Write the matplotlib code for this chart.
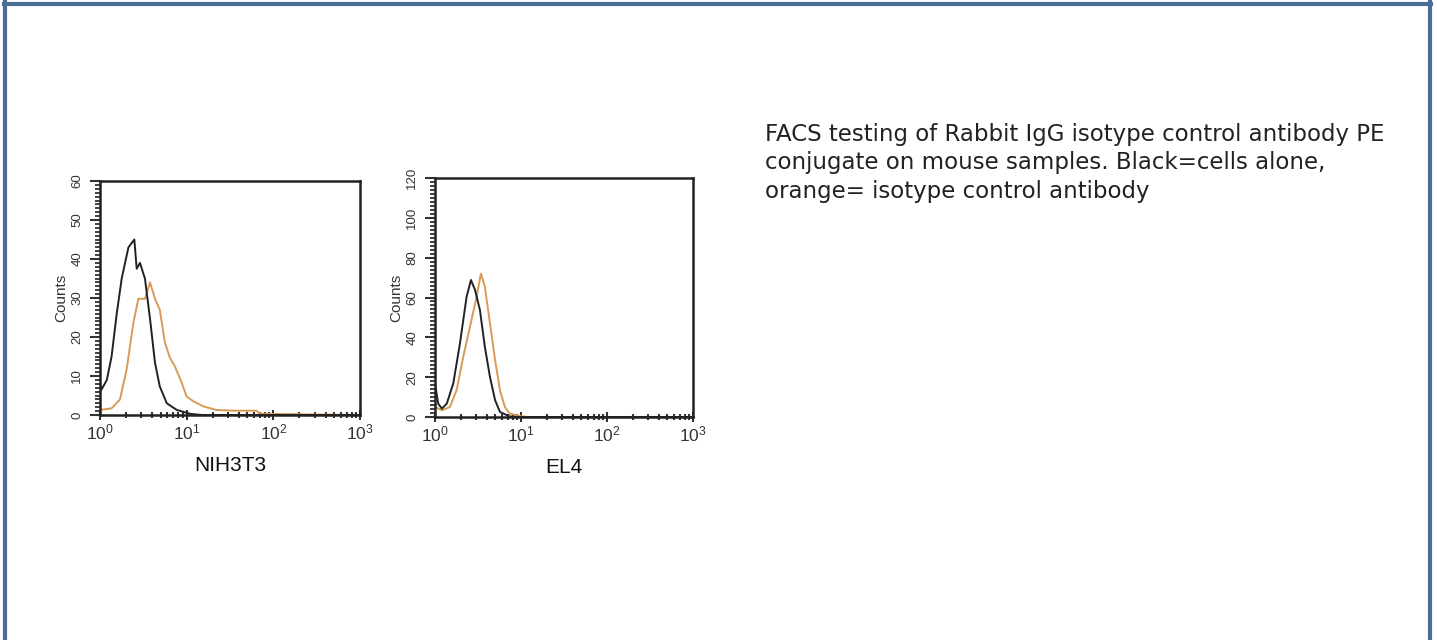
import math
import matplotlib
matplotlib.use("Agg")
import matplotlib.pyplot as plt
from matplotlib.ticker import MultipleLocator, LogLocator, NullFormatter, FuncFormatter

plt.rcParams['font.family'] = ['Liberation Sans', 'DejaVu Sans']
plt.rcParams['mathtext.default'] = 'regular'

# ---- data ----
nih_black_x = [1.0, 1.04, 1.2, 1.36, 1.56, 1.78, 2.13, 2.49, 2.65, 2.89, 3.3, 3.78, 4.31, 4.9, 5.9, 7.7, 11, 15, 1000]
nih_black_y = [8, 6.5, 9, 15, 26, 35, 43, 45, 37.5, 39, 35, 24.6, 13.4, 7.3, 3, 1.3, 0.3, 0, 0]
nih_orange_x = [1.0, 1.36, 1.7, 2.03, 2.43, 2.77, 3.3, 3.78, 4.31, 4.9, 5.6, 6.4, 7.3, 8.8, 10, 12, 15.6, 22, 35, 64, 70, 1000]
nih_orange_y = [1.3, 1.7, 4, 11.7, 23.7, 29.8, 29.8, 34, 29.8, 27, 18.6, 14.7, 12.5, 8.2, 4.7, 3.5, 2.2, 1.3, 1.1, 1.1, 0.3, 0]

el4_black_x = [1.0, 1.09, 1.2, 1.37, 1.63, 1.95, 2.33, 2.62, 2.92, 3.33, 3.8, 4.36, 5.0, 5.7, 7.4, 9, 1000]
el4_black_y = [16.8, 6.7, 4.2, 6.7, 16.8, 36.9, 60.4, 68.8, 63.8, 53.7, 35.2, 20, 8.4, 2.5, 0.3, 0, 0]
el4_orange_x = [1.0, 1.2, 1.49, 1.78, 2.13, 2.55, 3.05, 3.42, 3.8, 4.36, 5.0, 5.7, 6.5, 7.4, 9.7, 12, 1000]
el4_orange_y = [5, 3.4, 5, 13.4, 30.2, 45.3, 60.4, 72, 65.4, 47, 28.5, 13.4, 5, 1.7, 0.5, 0, 0]

panels = [
    ("NIH3T3", nih_black_x, nih_black_y, nih_orange_x, nih_orange_y, 60, 10),
    ("EL4", el4_black_x, el4_black_y, el4_orange_x, el4_orange_y, 120, 20),
]
caption = ("FACS testing of Rabbit IgG isotype control antibody PE\n"
           "conjugate on mouse samples. Black=cells alone,\n"
           "orange= isotype control antibody")

W, H = 1437, 640
fig = plt.figure(figsize=(W / 100, H / 100), dpi=100)

# outer border (top, left, right)
border = "#4a6f96"
fig.add_artist(plt.Line2D([5 / W, 5 / W], [0, 1 - 2 / H], transform=fig.transFigure, color=border, lw=3))
fig.add_artist(plt.Line2D([1430 / W, 1430 / W], [0, 1 - 2 / H], transform=fig.transFigure, color=border, lw=3))
fig.add_artist(plt.Line2D([4 / W, 1431 / W], [1 - 3.5 / H, 1 - 3.5 / H], transform=fig.transFigure, color=border, lw=3))

boxes = [(100, 181, 360, 415), (435, 178, 693, 417)]
for (name, bx, by, ox, oy, ymax, ystep), (x0, y0, x1, y1) in zip(panels, boxes):
    ax = fig.add_axes([x0 / W, 1 - y1 / H, (x1 - x0) / W, (y1 - y0) / H])
    ax.plot(ox, oy, color="#d99a55", lw=1.4)
    ax.plot(bx, by, color="#222222", lw=1.4)
    ax.set_xscale("log")
    ax.set_xlim(1, 1000)
    ax.set_ylim(0, ymax)
    for s in ax.spines.values():
        s.set_linewidth(1.8)
        s.set_color("#222222")
    ax.yaxis.set_major_locator(MultipleLocator(ystep))
    ax.yaxis.set_minor_locator(MultipleLocator(ystep / 10))
    ax.xaxis.set_major_locator(LogLocator(base=10, numticks=10))
    ax.xaxis.set_minor_locator(LogLocator(base=10, subs=range(2, 10), numticks=10))
    ax.xaxis.set_minor_formatter(NullFormatter())
    ax.xaxis.set_major_formatter(FuncFormatter(lambda v, p: "$10^{%d}$" % round(math.log10(v))))
    ax.tick_params(axis="y", which="major", direction="out", length=7, width=1.5, labelsize=9.5,
                   labelrotation=90, pad=5, colors="#333333")
    ax.tick_params(axis="y", which="minor", direction="out", length=3.5, width=1.3, colors="#333333")
    ax.tick_params(axis="x", which="major", direction="inout", length=7, width=1.5, labelsize=12.5,
                   pad=2, colors="#333333")
    ax.tick_params(axis="x", which="minor", direction="inout", length=4, width=1.5, colors="#333333")
    for lab in ax.get_yticklabels():
        lab.set_va("center")
    ax.set_ylabel("Counts", fontsize=11, labelpad=2, color="#333333")
    ax.set_xlabel(name, fontsize=15, labelpad=10, color="#111111")

fig.text(765 / W, 1 - 123 / H, caption, fontsize=16.5, family="DejaVu Sans", va="top", ha="left",
         linespacing=1.3, color="#222222")

fig.savefig("out.png", dpi=100)
